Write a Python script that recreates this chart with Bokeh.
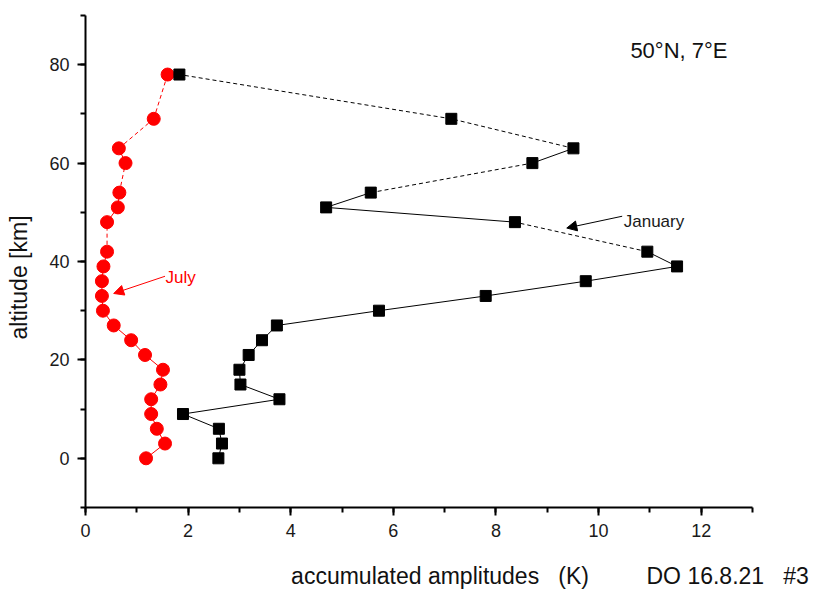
import numpy as np
from bokeh.plotting import figure
from bokeh.models import (SingleIntervalTicker, Range1d, Label, Arrow, NormalHead)
from bokeh.embed import file_html
from bokeh.resources import INLINE

# ---- data ----
altitude_km = [0, 3, 6, 9, 12, 15, 18, 21, 24, 27, 30, 33, 36, 39, 42, 48, 51, 54, 60, 63, 69, 78]
july_amp = [1.18, 1.55, 1.39, 1.28, 1.28, 1.46, 1.51, 1.16, 0.89, 0.55, 0.34, 0.32, 0.32, 0.35,
            0.42, 0.42, 0.63, 0.66, 0.78, 0.65, 1.33, 1.60]
january_amp = [2.59, 2.66, 2.60, 1.90, 3.78, 3.02, 3.00, 3.18, 3.44, 3.73, 5.72, 7.80, 9.75, 11.53,
               10.95, 8.37, 4.69, 5.56, 8.71, 9.51, 7.13, 1.83]
# line style of each segment between consecutive points (s = solid, d = dashed)
segment_style = ["s"] * 14 + ["d", "s", "s", "d", "s", "d", "d"]

x_ticks_interval = 2
y_ticks_interval = 20

FONT = "Liberation Sans"
NB = "\u00a0"

x_title = "accumulated amplitudes" + NB * 3 + "(K)"
note = "DO 16.8.21" + NB * 3 + "#3"
y_title = "altitude [km]"

p = figure(width=818, height=598, output_backend="svg", toolbar_location=None,
           x_range=Range1d(0, 13), y_range=Range1d(-10, 90),
           min_border_left=85, min_border_right=66, min_border_top=15, min_border_bottom=91)
p.outline_line_color = None
p.xgrid.grid_line_color = None
p.ygrid.grid_line_color = None
p.background_fill_color = "white"
p.border_fill_color = "white"

p.xaxis.ticker = SingleIntervalTicker(interval=x_ticks_interval, num_minor_ticks=2)
p.yaxis.ticker = SingleIntervalTicker(interval=y_ticks_interval, num_minor_ticks=2)
for ax in (p.xaxis[0], p.yaxis[0]):
    ax.axis_line_width = 2
    ax.axis_line_color = "black"
    ax.major_tick_line_width = 2
    ax.minor_tick_line_width = 2
    ax.major_tick_line_color = "black"
    ax.minor_tick_line_color = "black"
    ax.major_tick_out = 8
    ax.major_tick_in = 0
    ax.minor_tick_out = 5
    ax.minor_tick_in = 0
    ax.major_label_text_font = FONT
    ax.major_label_text_font_size = "18px"
    ax.major_label_text_color = "#1a1a1a"
    ax.major_label_standoff = 8
    ax.axis_label_text_font = FONT
    ax.axis_label_text_font_size = "23px"
    ax.axis_label_text_font_style = "normal"
    ax.axis_label_text_color = "#111111"

# x title and the note share the space below the axis (padded to their places)
p.xaxis.axis_label = NB * 41 + x_title + NB * 9 + note
p.xaxis.axis_label_standoff = 23
p.yaxis.axis_label = y_title + NB * 5
p.yaxis.axis_label_standoff = 14


def draw_series(xs, color):
    xs = np.asarray(xs, dtype=float)
    ys = np.asarray(altitude_km, dtype=float)
    for style, dash in (("s", "solid"), ("d", "4 3")):
        idx = [i for i, s in enumerate(segment_style) if s == style]
        nxt = [i + 1 for i in idx]
        p.segment(x0=xs[idx], y0=ys[idx], x1=xs[nxt], y1=ys[nxt],
                  line_color=color, line_width=1, line_dash=dash)


draw_series(july_amp, "#ff0000")
draw_series(january_amp, "black")

p.scatter(x=july_amp, y=altitude_km, marker="circle", size=13,
          fill_color="#ff0000", line_color="#ff0000")
p.scatter(x=january_amp, y=altitude_km, marker="square", size=11,
          fill_color="black", line_color="black")

# annotations inside the frame
p.add_layout(Arrow(end=NormalHead(size=10, fill_color="black", line_color="black", line_width=1),
                   x_start=10.46, y_start=49.2, x_end=9.38, y_end=46.8,
                   line_color="black", line_width=1))
p.add_layout(Arrow(end=NormalHead(size=10, fill_color="#ff0000", line_color="#ff0000", line_width=1),
                   x_start=1.55, y_start=37.0, x_end=0.55, y_end=33.5,
                   line_color="#ff0000", line_width=1))

p.add_layout(Label(x=10.49, y=48.1, text="January", text_font=FONT, text_font_size="17px",
                   text_color="#1a1a1a", text_baseline="alphabetic"))
p.add_layout(Label(x=1.56, y=36.65, text="July", text_font=FONT, text_font_size="17px",
                   text_color="#ff0000", text_baseline="alphabetic"))
p.add_layout(Label(x=10.62, y=82.8, text="50°N, 7°E", text_font=FONT, text_font_size="22px",
                   text_color="#111111", text_baseline="alphabetic"))

open("out.html", "w").write(file_html(p, INLINE))
